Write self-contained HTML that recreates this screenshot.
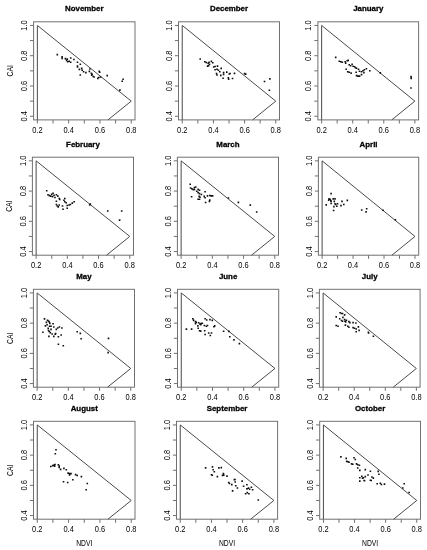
<!DOCTYPE html>
<html><head><meta charset="utf-8"><style>
html,body{margin:0;padding:0;background:#fff;}
svg{display:block;}
.r{font-family:"Liberation Sans",sans-serif;font-size:7.2px;fill:#000;stroke:#000;stroke-width:0.0px;}
.b{font-family:"Liberation Sans",sans-serif;font-size:8.0px;font-weight:bold;fill:#000;stroke:#000;stroke-width:0.3px;}
</style></head><body>
<svg width="427" height="550" viewBox="0 0 427 550">
<defs><filter id="bl" x="0" y="0" width="427" height="550" filterUnits="userSpaceOnUse"><feGaussianBlur stdDeviation="0.35"/></filter></defs>
<rect width="427" height="550" fill="#fff"/>
<g filter="url(#bl)">
<g><rect x="33.6" y="21.8" width="101.4" height="98.1" fill="none" stroke="#707070" stroke-width="1"/><polyline points="37.36,119.9 37.36,25.43 131.24,101.13 107.96,119.9" fill="none" stroke="#4a4a4a" stroke-width="1"/><path d="M37.36 119.9v3.6 M53 119.9v3.6 M68.65 119.9v3.6 M84.3 119.9v3.6 M99.95 119.9v3.6 M115.6 119.9v3.6 M131.24 119.9v3.6 M33.6 116.27h-3.6 M33.6 101.13h-3.6 M33.6 85.99h-3.6 M33.6 70.85h-3.6 M33.6 55.71h-3.6 M33.6 40.57h-3.6 M33.6 25.43h-3.6" stroke="#707070" stroke-width="1" fill="none"/><text transform="translate(37.36,133.3) scale(1.04,1.2)" text-anchor="middle" class="r">0.2</text><text transform="translate(68.65,133.3) scale(1.04,1.2)" text-anchor="middle" class="r">0.4</text><text transform="translate(99.95,133.3) scale(1.04,1.2)" text-anchor="middle" class="r">0.6</text><text transform="translate(131.24,133.3) scale(1.04,1.2)" text-anchor="middle" class="r">0.8</text><text transform="translate(26.7,116.27) rotate(-90) scale(1.04,1.2)" text-anchor="middle" class="r">0.4</text><text transform="translate(26.7,85.99) rotate(-90) scale(1.04,1.2)" text-anchor="middle" class="r">0.6</text><text transform="translate(26.7,55.71) rotate(-90) scale(1.04,1.2)" text-anchor="middle" class="r">0.8</text><text transform="translate(26.7,25.43) rotate(-90) scale(1.04,1.2)" text-anchor="middle" class="r">1.0</text><text transform="translate(84.3,11.4) scale(0.985,1.0)" text-anchor="middle" class="b">November</text><text transform="translate(13.1,70.85) rotate(-90) scale(0.94,1.2)" text-anchor="middle" class="r">CAI</text><path d="M56.5 53.8h1.6v1.6h-1.6zM61.3 56h1.6v1.6h-1.6zM61.3 57.6h1.6v1.6h-1.6zM64.6 57.8h1.6v1.6h-1.6zM66.5 58.3h1.6v1.6h-1.6zM65.8 59.6h1.6v1.6h-1.6zM66.9 60.9h1.6v1.6h-1.6zM68.4 60.4h1.6v1.6h-1.6zM69.9 61.5h1.6v1.6h-1.6zM69.9 57.2h1.6v1.6h-1.6zM73.1 58.7h1.6v1.6h-1.6zM76.7 61.5h1.6v1.6h-1.6zM79.5 63.4h1.6v1.6h-1.6zM76.7 65.3h1.6v1.6h-1.6zM76.7 66.2h1.6v1.6h-1.6zM78.6 68.6h1.6v1.6h-1.6zM80.9 67.6h1.6v1.6h-1.6zM81.4 69.5h1.6v1.6h-1.6zM82.8 70.9h1.6v1.6h-1.6zM85.1 71.8h1.6v1.6h-1.6zM79.5 74.2h1.6v1.6h-1.6zM89.1 68.2h1.6v1.6h-1.6zM88.6 70.6h1.6v1.6h-1.6zM90.5 72.4h1.6v1.6h-1.6zM91.4 73.4h1.6v1.6h-1.6zM90.9 74.3h1.6v1.6h-1.6zM92.4 75.7h1.6v1.6h-1.6zM93.3 76.2h1.6v1.6h-1.6zM98.4 70.6h1.6v1.6h-1.6zM98.9 71.5h1.6v1.6h-1.6zM97 77.6h1.6v1.6h-1.6zM98 76.7h1.6v1.6h-1.6zM99.8 76.2h1.6v1.6h-1.6zM106.4 74.8h1.6v1.6h-1.6zM122.3 78.5h1.6v1.6h-1.6zM121.4 80.4h1.6v1.6h-1.6zM119.1 89.3h1.6v1.6h-1.6z" fill="#111"/></g>
<g><rect x="178.5" y="21.8" width="101" height="98.1" fill="none" stroke="#707070" stroke-width="1"/><polyline points="182.24,119.9 182.24,25.43 275.76,101.13 252.57,119.9" fill="none" stroke="#4a4a4a" stroke-width="1"/><path d="M182.24 119.9v3.6 M197.83 119.9v3.6 M213.41 119.9v3.6 M229 119.9v3.6 M244.59 119.9v3.6 M260.17 119.9v3.6 M275.76 119.9v3.6 M178.5 116.27h-3.6 M178.5 101.13h-3.6 M178.5 85.99h-3.6 M178.5 70.85h-3.6 M178.5 55.71h-3.6 M178.5 40.57h-3.6 M178.5 25.43h-3.6" stroke="#707070" stroke-width="1" fill="none"/><text transform="translate(182.24,133.3) scale(1.04,1.2)" text-anchor="middle" class="r">0.2</text><text transform="translate(213.41,133.3) scale(1.04,1.2)" text-anchor="middle" class="r">0.4</text><text transform="translate(244.59,133.3) scale(1.04,1.2)" text-anchor="middle" class="r">0.6</text><text transform="translate(275.76,133.3) scale(1.04,1.2)" text-anchor="middle" class="r">0.8</text><text transform="translate(171.6,116.27) rotate(-90) scale(1.04,1.2)" text-anchor="middle" class="r">0.4</text><text transform="translate(171.6,85.99) rotate(-90) scale(1.04,1.2)" text-anchor="middle" class="r">0.6</text><text transform="translate(171.6,55.71) rotate(-90) scale(1.04,1.2)" text-anchor="middle" class="r">0.8</text><text transform="translate(171.6,25.43) rotate(-90) scale(1.04,1.2)" text-anchor="middle" class="r">1.0</text><text transform="translate(229,11.4) scale(0.985,1.0)" text-anchor="middle" class="b">December</text><path d="M199.4 58.2h1.6v1.6h-1.6zM204 61h1.6v1.6h-1.6zM205.4 61.7h1.6v1.6h-1.6zM207.3 62.4h1.6v1.6h-1.6zM208.3 61.5h1.6v1.6h-1.6zM210.6 60.6h1.6v1.6h-1.6zM212 62h1.6v1.6h-1.6zM208.7 63.4h1.6v1.6h-1.6zM206.8 65.3h1.6v1.6h-1.6zM207.8 64.8h1.6v1.6h-1.6zM212.9 66.2h1.6v1.6h-1.6zM214.3 65.7h1.6v1.6h-1.6zM216.7 65.3h1.6v1.6h-1.6zM220.4 67.6h1.6v1.6h-1.6zM214.3 69h1.6v1.6h-1.6zM216.2 68.5h1.6v1.6h-1.6zM217.6 69.5h1.6v1.6h-1.6zM219 70.9h1.6v1.6h-1.6zM215.7 72.7h1.6v1.6h-1.6zM216.2 74.2h1.6v1.6h-1.6zM220 74.6h1.6v1.6h-1.6zM222.8 71.8h1.6v1.6h-1.6zM222.8 73.7h1.6v1.6h-1.6zM226 71.3h1.6v1.6h-1.6zM228.4 73.2h1.6v1.6h-1.6zM229.3 72.7h1.6v1.6h-1.6zM222.3 77.4h1.6v1.6h-1.6zM227.5 77h1.6v1.6h-1.6zM227.9 78.4h1.6v1.6h-1.6zM231.7 77.7h1.6v1.6h-1.6zM233.7 72.6h1.6v1.6h-1.6zM243.8 72.8h1.6v1.6h-1.6zM244.9 73.3h1.6v1.6h-1.6zM263.7 80.7h1.6v1.6h-1.6zM269.1 78.1h1.6v1.6h-1.6zM268.6 89.4h1.6v1.6h-1.6z" fill="#111"/></g>
<g><rect x="317.9" y="21.8" width="100.7" height="98.1" fill="none" stroke="#707070" stroke-width="1"/><polyline points="321.63,119.9 321.63,25.43 414.87,101.13 391.75,119.9" fill="none" stroke="#4a4a4a" stroke-width="1"/><path d="M321.63 119.9v3.6 M337.17 119.9v3.6 M352.71 119.9v3.6 M368.25 119.9v3.6 M383.79 119.9v3.6 M399.33 119.9v3.6 M414.87 119.9v3.6 M317.9 116.27h-3.6 M317.9 101.13h-3.6 M317.9 85.99h-3.6 M317.9 70.85h-3.6 M317.9 55.71h-3.6 M317.9 40.57h-3.6 M317.9 25.43h-3.6" stroke="#707070" stroke-width="1" fill="none"/><text transform="translate(321.63,133.3) scale(1.04,1.2)" text-anchor="middle" class="r">0.2</text><text transform="translate(352.71,133.3) scale(1.04,1.2)" text-anchor="middle" class="r">0.4</text><text transform="translate(383.79,133.3) scale(1.04,1.2)" text-anchor="middle" class="r">0.6</text><text transform="translate(414.87,133.3) scale(1.04,1.2)" text-anchor="middle" class="r">0.8</text><text transform="translate(311,116.27) rotate(-90) scale(1.04,1.2)" text-anchor="middle" class="r">0.4</text><text transform="translate(311,85.99) rotate(-90) scale(1.04,1.2)" text-anchor="middle" class="r">0.6</text><text transform="translate(311,55.71) rotate(-90) scale(1.04,1.2)" text-anchor="middle" class="r">0.8</text><text transform="translate(311,25.43) rotate(-90) scale(1.04,1.2)" text-anchor="middle" class="r">1.0</text><text transform="translate(368.25,11.4) scale(0.985,1.0)" text-anchor="middle" class="b">January</text><path d="M334.9 56.6h1.6v1.6h-1.6zM338.5 60.5h1.6v1.6h-1.6zM340 61h1.6v1.6h-1.6zM341.5 61.5h1.6v1.6h-1.6zM344.4 61h1.6v1.6h-1.6zM344.9 62.5h1.6v1.6h-1.6zM346.4 60h1.6v1.6h-1.6zM347.4 59.6h1.6v1.6h-1.6zM348.4 64h1.6v1.6h-1.6zM349.8 65h1.6v1.6h-1.6zM351.3 63.5h1.6v1.6h-1.6zM352.3 65.5h1.6v1.6h-1.6zM353.8 65.9h1.6v1.6h-1.6zM354.8 66.9h1.6v1.6h-1.6zM355.7 67.4h1.6v1.6h-1.6zM357.7 68.4h1.6v1.6h-1.6zM358.7 70.4h1.6v1.6h-1.6zM360.7 70.9h1.6v1.6h-1.6zM362.1 69.9h1.6v1.6h-1.6zM363.1 71.8h1.6v1.6h-1.6zM363.6 68.9h1.6v1.6h-1.6zM365.6 67.9h1.6v1.6h-1.6zM369 69.9h1.6v1.6h-1.6zM345.4 68.4h1.6v1.6h-1.6zM346.9 70.9h1.6v1.6h-1.6zM348.4 71.4h1.6v1.6h-1.6zM350.3 72.3h1.6v1.6h-1.6zM355.3 71.4h1.6v1.6h-1.6zM355.7 74.8h1.6v1.6h-1.6zM357.2 75.3h1.6v1.6h-1.6zM358.7 75.3h1.6v1.6h-1.6zM360.7 73.8h1.6v1.6h-1.6zM379.5 72.1h1.6v1.6h-1.6zM410.2 75.8h1.6v1.6h-1.6zM410.4 77.6h1.6v1.6h-1.6zM410.2 87.2h1.6v1.6h-1.6z" fill="#111"/></g>
<g><rect x="32.4" y="157.2" width="101.1" height="98" fill="none" stroke="#707070" stroke-width="1"/><polyline points="36.14,255.2 36.14,160.83 129.76,236.45 106.54,255.2" fill="none" stroke="#4a4a4a" stroke-width="1"/><path d="M36.14 255.2v3.6 M51.75 255.2v3.6 M67.35 255.2v3.6 M82.95 255.2v3.6 M98.55 255.2v3.6 M114.15 255.2v3.6 M129.76 255.2v3.6 M32.4 251.57h-3.6 M32.4 236.45h-3.6 M32.4 221.32h-3.6 M32.4 206.2h-3.6 M32.4 191.08h-3.6 M32.4 175.95h-3.6 M32.4 160.83h-3.6" stroke="#707070" stroke-width="1" fill="none"/><text transform="translate(36.14,268) scale(1.04,1.2)" text-anchor="middle" class="r">0.2</text><text transform="translate(67.35,268) scale(1.04,1.2)" text-anchor="middle" class="r">0.4</text><text transform="translate(98.55,268) scale(1.04,1.2)" text-anchor="middle" class="r">0.6</text><text transform="translate(129.76,268) scale(1.04,1.2)" text-anchor="middle" class="r">0.8</text><text transform="translate(25.5,251.57) rotate(-90) scale(1.04,1.2)" text-anchor="middle" class="r">0.4</text><text transform="translate(25.5,221.32) rotate(-90) scale(1.04,1.2)" text-anchor="middle" class="r">0.6</text><text transform="translate(25.5,191.08) rotate(-90) scale(1.04,1.2)" text-anchor="middle" class="r">0.8</text><text transform="translate(25.5,160.83) rotate(-90) scale(1.04,1.2)" text-anchor="middle" class="r">1.0</text><text transform="translate(82.95,146.8) scale(0.985,1.0)" text-anchor="middle" class="b">February</text><text transform="translate(11.9,206.2) rotate(-90) scale(0.94,1.2)" text-anchor="middle" class="r">CAI</text><path d="M45.9 189.9h1.6v1.6h-1.6zM47.2 193.9h1.6v1.6h-1.6zM48.6 194.8h1.6v1.6h-1.6zM50 195.3h1.6v1.6h-1.6zM50.9 193.4h1.6v1.6h-1.6zM52.3 192.5h1.6v1.6h-1.6zM51.8 195.8h1.6v1.6h-1.6zM53.3 194.4h1.6v1.6h-1.6zM54.2 196.7h1.6v1.6h-1.6zM55.6 193.9h1.6v1.6h-1.6zM57 195.3h1.6v1.6h-1.6zM58.4 197.7h1.6v1.6h-1.6zM58.9 198.6h1.6v1.6h-1.6zM55.6 200.5h1.6v1.6h-1.6zM55.6 203.7h1.6v1.6h-1.6zM56.5 205.2h1.6v1.6h-1.6zM57.5 206.1h1.6v1.6h-1.6zM58.4 204.2h1.6v1.6h-1.6zM61.7 205.2h1.6v1.6h-1.6zM62.2 208.4h1.6v1.6h-1.6zM64 197.7h1.6v1.6h-1.6zM63.1 199.5h1.6v1.6h-1.6zM64 200.9h1.6v1.6h-1.6zM65.4 201.9h1.6v1.6h-1.6zM66.4 204.7h1.6v1.6h-1.6zM66.4 207.5h1.6v1.6h-1.6zM68.2 204.2h1.6v1.6h-1.6zM69.6 203.7h1.6v1.6h-1.6zM71.5 202.3h1.6v1.6h-1.6zM73.4 200.9h1.6v1.6h-1.6zM88.9 204.2h1.6v1.6h-1.6zM89.5 203.2h1.6v1.6h-1.6zM106.9 210.2h1.6v1.6h-1.6zM120.9 210.2h1.6v1.6h-1.6zM118.8 219.3h1.6v1.6h-1.6z" fill="#111"/></g>
<g><rect x="177.4" y="157.2" width="101.1" height="98" fill="none" stroke="#707070" stroke-width="1"/><polyline points="181.14,255.2 181.14,160.83 274.76,236.45 251.54,255.2" fill="none" stroke="#4a4a4a" stroke-width="1"/><path d="M181.14 255.2v3.6 M196.75 255.2v3.6 M212.35 255.2v3.6 M227.95 255.2v3.6 M243.55 255.2v3.6 M259.15 255.2v3.6 M274.76 255.2v3.6 M177.4 251.57h-3.6 M177.4 236.45h-3.6 M177.4 221.32h-3.6 M177.4 206.2h-3.6 M177.4 191.08h-3.6 M177.4 175.95h-3.6 M177.4 160.83h-3.6" stroke="#707070" stroke-width="1" fill="none"/><text transform="translate(181.14,268) scale(1.04,1.2)" text-anchor="middle" class="r">0.2</text><text transform="translate(212.35,268) scale(1.04,1.2)" text-anchor="middle" class="r">0.4</text><text transform="translate(243.55,268) scale(1.04,1.2)" text-anchor="middle" class="r">0.6</text><text transform="translate(274.76,268) scale(1.04,1.2)" text-anchor="middle" class="r">0.8</text><text transform="translate(170.5,251.57) rotate(-90) scale(1.04,1.2)" text-anchor="middle" class="r">0.4</text><text transform="translate(170.5,221.32) rotate(-90) scale(1.04,1.2)" text-anchor="middle" class="r">0.6</text><text transform="translate(170.5,191.08) rotate(-90) scale(1.04,1.2)" text-anchor="middle" class="r">0.8</text><text transform="translate(170.5,160.83) rotate(-90) scale(1.04,1.2)" text-anchor="middle" class="r">1.0</text><text transform="translate(227.95,146.8) scale(0.985,1.0)" text-anchor="middle" class="b">March</text><path d="M189.4 183.4h1.6v1.6h-1.6zM189.8 187.2h1.6v1.6h-1.6zM191.2 188.1h1.6v1.6h-1.6zM192.6 189h1.6v1.6h-1.6zM193.6 186.7h1.6v1.6h-1.6zM195 186.2h1.6v1.6h-1.6zM193.6 188.6h1.6v1.6h-1.6zM197.3 188.6h1.6v1.6h-1.6zM198.7 189.5h1.6v1.6h-1.6zM195.9 190.4h1.6v1.6h-1.6zM197.3 191.8h1.6v1.6h-1.6zM198.7 192.8h1.6v1.6h-1.6zM200.6 193.7h1.6v1.6h-1.6zM204.3 190.9h1.6v1.6h-1.6zM190.8 195.9h1.6v1.6h-1.6zM198.3 195.6h1.6v1.6h-1.6zM199.2 196.5h1.6v1.6h-1.6zM197.3 198.4h1.6v1.6h-1.6zM198.7 198.4h1.6v1.6h-1.6zM203.4 195.6h1.6v1.6h-1.6zM204.3 197h1.6v1.6h-1.6zM206.7 195.1h1.6v1.6h-1.6zM209 194.7h1.6v1.6h-1.6zM210.4 195.1h1.6v1.6h-1.6zM211.8 195.1h1.6v1.6h-1.6zM204.8 201.7h1.6v1.6h-1.6zM209 199.3h1.6v1.6h-1.6zM208.6 200.6h1.6v1.6h-1.6zM227.6 197.2h1.6v1.6h-1.6zM237.6 201.6h1.6v1.6h-1.6zM249.5 204.3h1.6v1.6h-1.6zM255.9 211.2h1.6v1.6h-1.6z" fill="#111"/></g>
<g><rect x="318.4" y="157.2" width="100.3" height="98" fill="none" stroke="#707070" stroke-width="1"/><polyline points="322.11,255.2 322.11,160.83 414.99,236.45 391.95,255.2" fill="none" stroke="#4a4a4a" stroke-width="1"/><path d="M322.11 255.2v3.6 M337.59 255.2v3.6 M353.07 255.2v3.6 M368.55 255.2v3.6 M384.03 255.2v3.6 M399.51 255.2v3.6 M414.99 255.2v3.6 M318.4 251.57h-3.6 M318.4 236.45h-3.6 M318.4 221.32h-3.6 M318.4 206.2h-3.6 M318.4 191.08h-3.6 M318.4 175.95h-3.6 M318.4 160.83h-3.6" stroke="#707070" stroke-width="1" fill="none"/><text transform="translate(322.11,268) scale(1.04,1.2)" text-anchor="middle" class="r">0.2</text><text transform="translate(353.07,268) scale(1.04,1.2)" text-anchor="middle" class="r">0.4</text><text transform="translate(384.03,268) scale(1.04,1.2)" text-anchor="middle" class="r">0.6</text><text transform="translate(414.99,268) scale(1.04,1.2)" text-anchor="middle" class="r">0.8</text><text transform="translate(311.5,251.57) rotate(-90) scale(1.04,1.2)" text-anchor="middle" class="r">0.4</text><text transform="translate(311.5,221.32) rotate(-90) scale(1.04,1.2)" text-anchor="middle" class="r">0.6</text><text transform="translate(311.5,191.08) rotate(-90) scale(1.04,1.2)" text-anchor="middle" class="r">0.8</text><text transform="translate(311.5,160.83) rotate(-90) scale(1.04,1.2)" text-anchor="middle" class="r">1.0</text><text transform="translate(368.55,146.8) scale(0.985,1.0)" text-anchor="middle" class="b">April</text><path d="M330.3 192.8h1.6v1.6h-1.6zM328.2 198.1h1.6v1.6h-1.6zM329.3 198.4h1.6v1.6h-1.6zM327.9 199.5h1.6v1.6h-1.6zM330 199.8h1.6v1.6h-1.6zM330.3 200.6h1.6v1.6h-1.6zM332.4 198.1h1.6v1.6h-1.6zM334.2 198.1h1.6v1.6h-1.6zM333.5 200.6h1.6v1.6h-1.6zM330.3 202.7h1.6v1.6h-1.6zM325.4 204.1h1.6v1.6h-1.6zM334.2 203h1.6v1.6h-1.6zM334.9 203.7h1.6v1.6h-1.6zM336.7 203h1.6v1.6h-1.6zM336 205.5h1.6v1.6h-1.6zM333.1 205.8h1.6v1.6h-1.6zM340.2 204.8h1.6v1.6h-1.6zM343 203.7h1.6v1.6h-1.6zM341.2 200.6h1.6v1.6h-1.6zM346.5 199.6h1.6v1.6h-1.6zM332.8 209.7h1.6v1.6h-1.6zM360.9 209.2h1.6v1.6h-1.6zM365.9 208h1.6v1.6h-1.6zM365.3 211.1h1.6v1.6h-1.6zM382.3 209.5h1.6v1.6h-1.6zM394.6 218.9h1.6v1.6h-1.6z" fill="#111"/></g>
<g><rect x="33.4" y="289.3" width="101.1" height="97.9" fill="none" stroke="#707070" stroke-width="1"/><polyline points="37.14,387.2 37.14,292.93 130.76,368.47 107.54,387.2" fill="none" stroke="#4a4a4a" stroke-width="1"/><path d="M37.14 387.2v3.6 M52.75 387.2v3.6 M68.35 387.2v3.6 M83.95 387.2v3.6 M99.55 387.2v3.6 M115.15 387.2v3.6 M130.76 387.2v3.6 M33.4 383.57h-3.6 M33.4 368.47h-3.6 M33.4 353.36h-3.6 M33.4 338.25h-3.6 M33.4 323.14h-3.6 M33.4 308.03h-3.6 M33.4 292.93h-3.6" stroke="#707070" stroke-width="1" fill="none"/><text transform="translate(37.14,400) scale(1.04,1.2)" text-anchor="middle" class="r">0.2</text><text transform="translate(68.35,400) scale(1.04,1.2)" text-anchor="middle" class="r">0.4</text><text transform="translate(99.55,400) scale(1.04,1.2)" text-anchor="middle" class="r">0.6</text><text transform="translate(130.76,400) scale(1.04,1.2)" text-anchor="middle" class="r">0.8</text><text transform="translate(26.5,383.57) rotate(-90) scale(1.04,1.2)" text-anchor="middle" class="r">0.4</text><text transform="translate(26.5,353.36) rotate(-90) scale(1.04,1.2)" text-anchor="middle" class="r">0.6</text><text transform="translate(26.5,323.14) rotate(-90) scale(1.04,1.2)" text-anchor="middle" class="r">0.8</text><text transform="translate(26.5,292.93) rotate(-90) scale(1.04,1.2)" text-anchor="middle" class="r">1.0</text><text transform="translate(83.95,278.6) scale(0.985,1.0)" text-anchor="middle" class="b">May</text><text transform="translate(12.9,338.25) rotate(-90) scale(0.94,1.2)" text-anchor="middle" class="r">CAI</text><path d="M43.7 318.1h1.6v1.6h-1.6zM46.7 319.5h1.6v1.6h-1.6zM47.7 320.2h1.6v1.6h-1.6zM48.4 321.2h1.6v1.6h-1.6zM49.1 322.6h1.6v1.6h-1.6zM45.6 321.6h1.6v1.6h-1.6zM46.3 324h1.6v1.6h-1.6zM44.6 325.1h1.6v1.6h-1.6zM52.3 323h1.6v1.6h-1.6zM48.8 325.4h1.6v1.6h-1.6zM50.2 325.4h1.6v1.6h-1.6zM53 326.2h1.6v1.6h-1.6zM47.4 327.6h1.6v1.6h-1.6zM50.2 328.6h1.6v1.6h-1.6zM47.7 329.7h1.6v1.6h-1.6zM48.4 330.7h1.6v1.6h-1.6zM49.5 331.8h1.6v1.6h-1.6zM51.3 333.2h1.6v1.6h-1.6zM42.1 331.4h1.6v1.6h-1.6zM55.5 328.6h1.6v1.6h-1.6zM56.9 327.2h1.6v1.6h-1.6zM58.6 326.2h1.6v1.6h-1.6zM61.1 327.2h1.6v1.6h-1.6zM54.8 332.8h1.6v1.6h-1.6zM54.4 333.5h1.6v1.6h-1.6zM48.1 335.6h1.6v1.6h-1.6zM53 335.6h1.6v1.6h-1.6zM57.6 336h1.6v1.6h-1.6zM60.4 334.2h1.6v1.6h-1.6zM57.6 343.4h1.6v1.6h-1.6zM62.5 345h1.6v1.6h-1.6zM76.4 331h1.6v1.6h-1.6zM79.5 332.6h1.6v1.6h-1.6zM80.3 337.9h1.6v1.6h-1.6zM107.7 337.6h1.6v1.6h-1.6zM107.3 351.8h1.6v1.6h-1.6z" fill="#111"/></g>
<g><rect x="177.5" y="289.3" width="101.2" height="97.9" fill="none" stroke="#707070" stroke-width="1"/><polyline points="181.25,387.2 181.25,292.93 274.95,368.47 251.71,387.2" fill="none" stroke="#4a4a4a" stroke-width="1"/><path d="M181.25 387.2v3.6 M196.87 387.2v3.6 M212.48 387.2v3.6 M228.1 387.2v3.6 M243.72 387.2v3.6 M259.33 387.2v3.6 M274.95 387.2v3.6 M177.5 383.57h-3.6 M177.5 368.47h-3.6 M177.5 353.36h-3.6 M177.5 338.25h-3.6 M177.5 323.14h-3.6 M177.5 308.03h-3.6 M177.5 292.93h-3.6" stroke="#707070" stroke-width="1" fill="none"/><text transform="translate(181.25,400) scale(1.04,1.2)" text-anchor="middle" class="r">0.2</text><text transform="translate(212.48,400) scale(1.04,1.2)" text-anchor="middle" class="r">0.4</text><text transform="translate(243.72,400) scale(1.04,1.2)" text-anchor="middle" class="r">0.6</text><text transform="translate(274.95,400) scale(1.04,1.2)" text-anchor="middle" class="r">0.8</text><text transform="translate(170.6,383.57) rotate(-90) scale(1.04,1.2)" text-anchor="middle" class="r">0.4</text><text transform="translate(170.6,353.36) rotate(-90) scale(1.04,1.2)" text-anchor="middle" class="r">0.6</text><text transform="translate(170.6,323.14) rotate(-90) scale(1.04,1.2)" text-anchor="middle" class="r">0.8</text><text transform="translate(170.6,292.93) rotate(-90) scale(1.04,1.2)" text-anchor="middle" class="r">1.0</text><text transform="translate(228.1,278.6) scale(0.985,1.0)" text-anchor="middle" class="b">June</text><path d="M192 318h1.6v1.6h-1.6zM192.8 319.6h1.6v1.6h-1.6zM194.7 320.8h1.6v1.6h-1.6zM195.5 321.6h1.6v1.6h-1.6zM194.7 322.8h1.6v1.6h-1.6zM197.9 322h1.6v1.6h-1.6zM199.1 323.2h1.6v1.6h-1.6zM200.3 322.8h1.6v1.6h-1.6zM201.5 322.4h1.6v1.6h-1.6zM199.9 323.9h1.6v1.6h-1.6zM197.1 325.1h1.6v1.6h-1.6zM197.4 327.5h1.6v1.6h-1.6zM204.3 318h1.6v1.6h-1.6zM205.9 319.2h1.6v1.6h-1.6zM209.1 318.8h1.6v1.6h-1.6zM211.5 319.6h1.6v1.6h-1.6zM203.5 324.7h1.6v1.6h-1.6zM205.5 325.5h1.6v1.6h-1.6zM206.7 324.7h1.6v1.6h-1.6zM213.1 325.9h1.6v1.6h-1.6zM213.9 325.1h1.6v1.6h-1.6zM185.6 328.3h1.6v1.6h-1.6zM190.8 328.3h1.6v1.6h-1.6zM198.7 329.9h1.6v1.6h-1.6zM199.9 330.3h1.6v1.6h-1.6zM203.9 329.9h1.6v1.6h-1.6zM207.9 332.2h1.6v1.6h-1.6zM210.7 332.2h1.6v1.6h-1.6zM204.3 333.7h1.6v1.6h-1.6zM209.5 334.7h1.6v1.6h-1.6zM222.8 330.5h1.6v1.6h-1.6zM228.1 330.6h1.6v1.6h-1.6zM229 336h1.6v1.6h-1.6zM233.2 339.1h1.6v1.6h-1.6zM238.6 342.8h1.6v1.6h-1.6z" fill="#111"/></g>
<g><rect x="319.4" y="289.3" width="100.7" height="97.9" fill="none" stroke="#707070" stroke-width="1"/><polyline points="323.13,387.2 323.13,292.93 416.37,368.47 393.25,387.2" fill="none" stroke="#4a4a4a" stroke-width="1"/><path d="M323.13 387.2v3.6 M338.67 387.2v3.6 M354.21 387.2v3.6 M369.75 387.2v3.6 M385.29 387.2v3.6 M400.83 387.2v3.6 M416.37 387.2v3.6 M319.4 383.57h-3.6 M319.4 368.47h-3.6 M319.4 353.36h-3.6 M319.4 338.25h-3.6 M319.4 323.14h-3.6 M319.4 308.03h-3.6 M319.4 292.93h-3.6" stroke="#707070" stroke-width="1" fill="none"/><text transform="translate(323.13,400) scale(1.04,1.2)" text-anchor="middle" class="r">0.2</text><text transform="translate(354.21,400) scale(1.04,1.2)" text-anchor="middle" class="r">0.4</text><text transform="translate(385.29,400) scale(1.04,1.2)" text-anchor="middle" class="r">0.6</text><text transform="translate(416.37,400) scale(1.04,1.2)" text-anchor="middle" class="r">0.8</text><text transform="translate(312.5,383.57) rotate(-90) scale(1.04,1.2)" text-anchor="middle" class="r">0.4</text><text transform="translate(312.5,353.36) rotate(-90) scale(1.04,1.2)" text-anchor="middle" class="r">0.6</text><text transform="translate(312.5,323.14) rotate(-90) scale(1.04,1.2)" text-anchor="middle" class="r">0.8</text><text transform="translate(312.5,292.93) rotate(-90) scale(1.04,1.2)" text-anchor="middle" class="r">1.0</text><text transform="translate(369.75,278.6) scale(0.985,1.0)" text-anchor="middle" class="b">July</text><path d="M339.3 312h1.6v1.6h-1.6zM340.7 312.7h1.6v1.6h-1.6zM341.7 312.7h1.6v1.6h-1.6zM343.8 314.1h1.6v1.6h-1.6zM335.4 316.1h1.6v1.6h-1.6zM342.1 316.6h1.6v1.6h-1.6zM338.9 318h1.6v1.6h-1.6zM340.7 319.7h1.6v1.6h-1.6zM341.7 320.4h1.6v1.6h-1.6zM343.8 318.7h1.6v1.6h-1.6zM344.2 320.4h1.6v1.6h-1.6zM344.9 321.1h1.6v1.6h-1.6zM345.6 319.4h1.6v1.6h-1.6zM348.1 320.8h1.6v1.6h-1.6zM349.1 321.8h1.6v1.6h-1.6zM352.3 321.8h1.6v1.6h-1.6zM355.1 322.2h1.6v1.6h-1.6zM335.4 324.7h1.6v1.6h-1.6zM337.2 325.4h1.6v1.6h-1.6zM344.6 324.3h1.6v1.6h-1.6zM347 325.4h1.6v1.6h-1.6zM348.1 326.4h1.6v1.6h-1.6zM352.3 326.8h1.6v1.6h-1.6zM353.7 327.5h1.6v1.6h-1.6zM355.4 328.2h1.6v1.6h-1.6zM357.6 326.1h1.6v1.6h-1.6zM358.3 329.6h1.6v1.6h-1.6zM355.4 331h1.6v1.6h-1.6zM367.6 331.5h1.6v1.6h-1.6zM367.8 332.2h1.6v1.6h-1.6zM372.6 335.5h1.6v1.6h-1.6z" fill="#111"/></g>
<g><rect x="33.5" y="421.3" width="101.5" height="97.9" fill="none" stroke="#707070" stroke-width="1"/><polyline points="37.26,519.2 37.26,424.93 131.24,500.47 107.93,519.2" fill="none" stroke="#4a4a4a" stroke-width="1"/><path d="M37.26 519.2v3.6 M52.92 519.2v3.6 M68.59 519.2v3.6 M84.25 519.2v3.6 M99.91 519.2v3.6 M115.58 519.2v3.6 M131.24 519.2v3.6 M33.5 515.57h-3.6 M33.5 500.47h-3.6 M33.5 485.36h-3.6 M33.5 470.25h-3.6 M33.5 455.14h-3.6 M33.5 440.03h-3.6 M33.5 424.93h-3.6" stroke="#707070" stroke-width="1" fill="none"/><text transform="translate(37.26,531.8) scale(1.04,1.2)" text-anchor="middle" class="r">0.2</text><text transform="translate(68.59,531.8) scale(1.04,1.2)" text-anchor="middle" class="r">0.4</text><text transform="translate(99.91,531.8) scale(1.04,1.2)" text-anchor="middle" class="r">0.6</text><text transform="translate(131.24,531.8) scale(1.04,1.2)" text-anchor="middle" class="r">0.8</text><text transform="translate(26.6,515.57) rotate(-90) scale(1.04,1.2)" text-anchor="middle" class="r">0.4</text><text transform="translate(26.6,485.36) rotate(-90) scale(1.04,1.2)" text-anchor="middle" class="r">0.6</text><text transform="translate(26.6,455.14) rotate(-90) scale(1.04,1.2)" text-anchor="middle" class="r">0.8</text><text transform="translate(26.6,424.93) rotate(-90) scale(1.04,1.2)" text-anchor="middle" class="r">1.0</text><text transform="translate(84.25,410.8) scale(0.985,1.0)" text-anchor="middle" class="b">August</text><text transform="translate(13,470.25) rotate(-90) scale(0.94,1.2)" text-anchor="middle" class="r">CAI</text><text transform="translate(84.25,545.5) scale(0.94,1.2)" text-anchor="middle" class="r">NDVI</text><path d="M55.2 448.9h1.6v1.6h-1.6zM54.5 452.9h1.6v1.6h-1.6zM50 465.7h1.6v1.6h-1.6zM51.9 464.8h1.6v1.6h-1.6zM53.3 464.3h1.6v1.6h-1.6zM54.2 463.7h1.6v1.6h-1.6zM53.8 465.3h1.6v1.6h-1.6zM57.5 463.9h1.6v1.6h-1.6zM58.4 465.3h1.6v1.6h-1.6zM58.4 466.7h1.6v1.6h-1.6zM59.8 468.6h1.6v1.6h-1.6zM63.1 467.6h1.6v1.6h-1.6zM65.5 469h1.6v1.6h-1.6zM67.3 472.3h1.6v1.6h-1.6zM68.7 472.8h1.6v1.6h-1.6zM70.2 472.8h1.6v1.6h-1.6zM68.7 474.2h1.6v1.6h-1.6zM74.8 473.8h1.6v1.6h-1.6zM76.4 474.7h1.6v1.6h-1.6zM80.6 475.8h1.6v1.6h-1.6zM72 479h1.6v1.6h-1.6zM62.7 481h1.6v1.6h-1.6zM66.9 481.7h1.6v1.6h-1.6zM86.5 482.7h1.6v1.6h-1.6zM85.4 489h1.6v1.6h-1.6z" fill="#111"/></g>
<g><rect x="176.5" y="421.3" width="101.1" height="97.9" fill="none" stroke="#707070" stroke-width="1"/><polyline points="180.24,519.2 180.24,424.93 273.86,500.47 250.64,519.2" fill="none" stroke="#4a4a4a" stroke-width="1"/><path d="M180.24 519.2v3.6 M195.85 519.2v3.6 M211.45 519.2v3.6 M227.05 519.2v3.6 M242.65 519.2v3.6 M258.25 519.2v3.6 M273.86 519.2v3.6 M176.5 515.57h-3.6 M176.5 500.47h-3.6 M176.5 485.36h-3.6 M176.5 470.25h-3.6 M176.5 455.14h-3.6 M176.5 440.03h-3.6 M176.5 424.93h-3.6" stroke="#707070" stroke-width="1" fill="none"/><text transform="translate(180.24,531.8) scale(1.04,1.2)" text-anchor="middle" class="r">0.2</text><text transform="translate(211.45,531.8) scale(1.04,1.2)" text-anchor="middle" class="r">0.4</text><text transform="translate(242.65,531.8) scale(1.04,1.2)" text-anchor="middle" class="r">0.6</text><text transform="translate(273.86,531.8) scale(1.04,1.2)" text-anchor="middle" class="r">0.8</text><text transform="translate(169.6,515.57) rotate(-90) scale(1.04,1.2)" text-anchor="middle" class="r">0.4</text><text transform="translate(169.6,485.36) rotate(-90) scale(1.04,1.2)" text-anchor="middle" class="r">0.6</text><text transform="translate(169.6,455.14) rotate(-90) scale(1.04,1.2)" text-anchor="middle" class="r">0.8</text><text transform="translate(169.6,424.93) rotate(-90) scale(1.04,1.2)" text-anchor="middle" class="r">1.0</text><text transform="translate(227.05,410.8) scale(0.985,1.0)" text-anchor="middle" class="b">September</text><text transform="translate(227.05,545.5) scale(0.94,1.2)" text-anchor="middle" class="r">NDVI</text><path d="M204.8 467.1h1.6v1.6h-1.6zM211.7 466.1h1.6v1.6h-1.6zM212.3 469h1.6v1.6h-1.6zM213.5 471h1.6v1.6h-1.6zM218.1 467.1h1.6v1.6h-1.6zM220.5 466.8h1.6v1.6h-1.6zM210.7 473.9h1.6v1.6h-1.6zM211.5 474.5h1.6v1.6h-1.6zM216.6 475.8h1.6v1.6h-1.6zM222.6 472.7h1.6v1.6h-1.6zM221.7 474.6h1.6v1.6h-1.6zM223 474.3h1.6v1.6h-1.6zM226.2 475.3h1.6v1.6h-1.6zM227.9 481.7h1.6v1.6h-1.6zM228.7 482.7h1.6v1.6h-1.6zM231 483.8h1.6v1.6h-1.6zM233.6 478.8h1.6v1.6h-1.6zM231.8 490.1h1.6v1.6h-1.6zM234.2 478.7h1.6v1.6h-1.6zM234.4 481.2h1.6v1.6h-1.6zM235 484.9h1.6v1.6h-1.6zM236.6 487.2h1.6v1.6h-1.6zM241.3 480.3h1.6v1.6h-1.6zM242.8 485.5h1.6v1.6h-1.6zM246.1 483.9h1.6v1.6h-1.6zM246.1 488.1h1.6v1.6h-1.6zM247.7 487.3h1.6v1.6h-1.6zM248.9 488.5h1.6v1.6h-1.6zM250.6 486.5h1.6v1.6h-1.6zM251.8 489h1.6v1.6h-1.6zM244.8 492.9h1.6v1.6h-1.6zM246.5 491.8h1.6v1.6h-1.6zM248.1 492.9h1.6v1.6h-1.6zM257.5 499.2h1.6v1.6h-1.6z" fill="#111"/></g>
<g><rect x="319.7" y="421.3" width="100.8" height="97.9" fill="none" stroke="#707070" stroke-width="1"/><polyline points="323.43,519.2 323.43,424.93 416.77,500.47 393.62,519.2" fill="none" stroke="#4a4a4a" stroke-width="1"/><path d="M323.43 519.2v3.6 M338.99 519.2v3.6 M354.54 519.2v3.6 M370.1 519.2v3.6 M385.66 519.2v3.6 M401.21 519.2v3.6 M416.77 519.2v3.6 M319.7 515.57h-3.6 M319.7 500.47h-3.6 M319.7 485.36h-3.6 M319.7 470.25h-3.6 M319.7 455.14h-3.6 M319.7 440.03h-3.6 M319.7 424.93h-3.6" stroke="#707070" stroke-width="1" fill="none"/><text transform="translate(323.43,531.8) scale(1.04,1.2)" text-anchor="middle" class="r">0.2</text><text transform="translate(354.54,531.8) scale(1.04,1.2)" text-anchor="middle" class="r">0.4</text><text transform="translate(385.66,531.8) scale(1.04,1.2)" text-anchor="middle" class="r">0.6</text><text transform="translate(416.77,531.8) scale(1.04,1.2)" text-anchor="middle" class="r">0.8</text><text transform="translate(312.8,515.57) rotate(-90) scale(1.04,1.2)" text-anchor="middle" class="r">0.4</text><text transform="translate(312.8,485.36) rotate(-90) scale(1.04,1.2)" text-anchor="middle" class="r">0.6</text><text transform="translate(312.8,455.14) rotate(-90) scale(1.04,1.2)" text-anchor="middle" class="r">0.8</text><text transform="translate(312.8,424.93) rotate(-90) scale(1.04,1.2)" text-anchor="middle" class="r">1.0</text><text transform="translate(370.1,410.8) scale(0.985,1.0)" text-anchor="middle" class="b">October</text><text transform="translate(370.1,545.5) scale(0.94,1.2)" text-anchor="middle" class="r">NDVI</text><path d="M340.1 456.1h1.6v1.6h-1.6zM345.4 457.6h1.6v1.6h-1.6zM353.2 456.9h1.6v1.6h-1.6zM354.5 458.7h1.6v1.6h-1.6zM345.9 460.6h1.6v1.6h-1.6zM347.1 461h1.6v1.6h-1.6zM348.3 461.4h1.6v1.6h-1.6zM350.8 463.1h1.6v1.6h-1.6zM352 463.5h1.6v1.6h-1.6zM355.7 463.1h1.6v1.6h-1.6zM356.9 463.9h1.6v1.6h-1.6zM358.6 464.5h1.6v1.6h-1.6zM356.9 467.2h1.6v1.6h-1.6zM359 469.6h1.6v1.6h-1.6zM364.5 468.8h1.6v1.6h-1.6zM369.6 470.5h1.6v1.6h-1.6zM367.2 474.2h1.6v1.6h-1.6zM361 475.4h1.6v1.6h-1.6zM359 477h1.6v1.6h-1.6zM361.8 477.3h1.6v1.6h-1.6zM364.5 475.8h1.6v1.6h-1.6zM359 480.3h1.6v1.6h-1.6zM363.7 479.9h1.6v1.6h-1.6zM369.6 479.5h1.6v1.6h-1.6zM377.4 470.6h1.6v1.6h-1.6zM378.1 473.4h1.6v1.6h-1.6zM362.6 476.9h1.6v1.6h-1.6zM371.1 476.2h1.6v1.6h-1.6zM372.5 477.3h1.6v1.6h-1.6zM363.3 479.7h1.6v1.6h-1.6zM370.4 479.7h1.6v1.6h-1.6zM376.4 483h1.6v1.6h-1.6zM379.5 482.5h1.6v1.6h-1.6zM380.6 483.7h1.6v1.6h-1.6zM383.7 483.3h1.6v1.6h-1.6zM403.4 483h1.6v1.6h-1.6zM402 487.2h1.6v1.6h-1.6zM408.3 491.7h1.6v1.6h-1.6z" fill="#111"/></g>
</g>
</svg>
</body></html>
